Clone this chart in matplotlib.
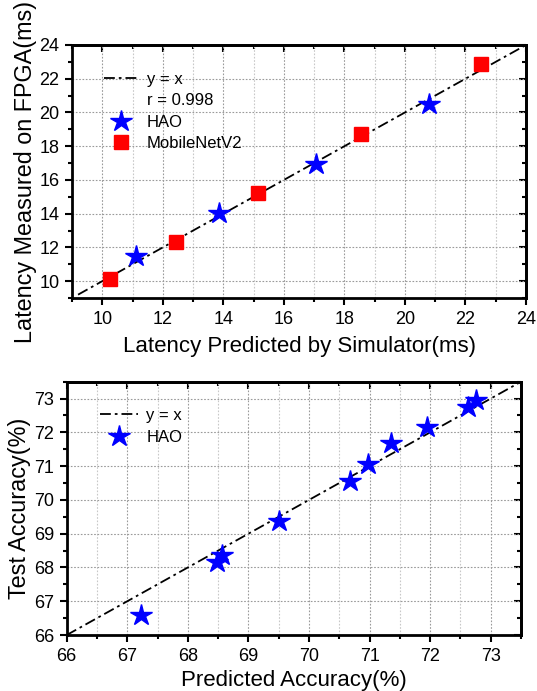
import matplotlib
matplotlib.use("Agg")
from matplotlib import pyplot as plt
from matplotlib.lines import Line2D
from matplotlib.ticker import MultipleLocator

plt.rcParams["font.family"] = ["Liberation Sans", "DejaVu Sans"]

# top panel: latency
hao_lat_pred = [11.1, 13.85, 17.05, 20.8]
hao_lat_meas = [11.5, 14.05, 16.95, 20.5]
mbv2_lat_pred = [10.25, 12.45, 15.15, 18.55, 22.5]
mbv2_lat_meas = [10.1, 12.35, 15.25, 18.75, 22.9]
r_value = 0.998

# bottom panel: accuracy
hao_acc_pred = [67.22, 68.48, 68.57, 69.5, 70.67, 70.97, 71.35, 71.95, 72.62, 72.75]
hao_acc_test = [66.6, 68.15, 68.38, 69.38, 70.55, 71.05, 71.68, 72.15, 72.75, 72.95]

DASHDOT = (0, (6, 2.2, 1.5, 2.2))
BLUE = "#0000ff"
RED = "#ff0000"
TICK_FS = 13
LEG_FS = 12


def style_axes(ax, xmaj, xmin, ymaj, ymin):
    ax.xaxis.set_major_locator(MultipleLocator(xmaj))
    ax.xaxis.set_minor_locator(MultipleLocator(xmin))
    ax.yaxis.set_major_locator(MultipleLocator(ymaj))
    ax.yaxis.set_minor_locator(MultipleLocator(ymin))
    for s in ax.spines.values():
        s.set_linewidth(2)
    ax.tick_params(which="both", direction="out", top=False, right=False,
                   labelsize=TICK_FS, width=1.5, pad=4)
    ax.tick_params(which="major", length=5)
    ax.tick_params(which="minor", length=3)
    # inward ticks on top / right, Origin style
    sec_x = ax.secondary_xaxis("top")
    sec_y = ax.secondary_yaxis("right")
    sec_x.xaxis.set_major_locator(MultipleLocator(xmaj))
    sec_x.xaxis.set_minor_locator(MultipleLocator(xmin))
    sec_y.yaxis.set_major_locator(MultipleLocator(ymaj))
    sec_y.yaxis.set_minor_locator(MultipleLocator(ymin))
    for sec in (sec_x, sec_y):
        sec.tick_params(which="both", direction="in", width=1.5,
                        labeltop=False, labelright=False, labelbottom=False, labelleft=False)
        sec.tick_params(which="major", length=5)
        sec.tick_params(which="minor", length=3)
        for s in sec.spines.values():
            s.set_linewidth(2)
    ax.grid(which="major", color="#9a9a9a", linestyle=(0, (1.5, 1.5)), linewidth=0.8)
    ax.grid(which="minor", axis="x", color="#c8c8c8", linestyle=(0, (1.5, 1.5)), linewidth=0.8)
    ax.set_axisbelow(True)


fig = plt.figure(figsize=(5.37, 6.91), dpi=100)

# ---- top panel
ax1 = fig.add_axes([0.1341, 0.5687, 0.8454, 0.3662])
ax1.set_xlim(9, 24)
ax1.set_ylim(9, 24)
style_axes(ax1, 2, 1, 2, 1)
ax1.plot([9.2, 24], [9.2, 24], color="black", linestyle=DASHDOT, linewidth=1.3, zorder=2)
ax1.plot(mbv2_lat_pred, mbv2_lat_meas, "s", color=RED, markersize=10.5, zorder=3)
ax1.plot(hao_lat_pred, hao_lat_meas, "*", color=BLUE, markersize=16, zorder=4)
ax1.set_xlabel("Latency Predicted by Simulator(ms)", fontsize=16, labelpad=6)
ax1.set_ylabel("Latency Measured on FPGA(ms)", fontsize=16.8, labelpad=2)

h1 = [Line2D([], [], color="black", linestyle=DASHDOT, linewidth=1.3),
      Line2D([], [], linestyle="none"),
      Line2D([], [], marker="*", color=BLUE, linestyle="none", markersize=16),
      Line2D([], [], marker="s", color=RED, linestyle="none", markersize=10.5)]
ax1.legend(h1, ["y = x", "r = %.3f" % r_value, "HAO", "MobileNetV2"],
           loc="upper left", bbox_to_anchor=(0.055, 0.92), frameon=False,
           fontsize=LEG_FS, handlelength=2.1, handletextpad=0.48, labelspacing=0.38,
           borderaxespad=0)

# ---- bottom panel
ax2 = fig.add_axes([0.1242, 0.0810, 0.846, 0.3666])
ax2.set_xlim(66, 73.5)
ax2.set_ylim(66, 73.5)
style_axes(ax2, 1, 0.5, 1, 0.5)
ax2.plot([66, 73.5], [66, 73.5], color="black", linestyle=DASHDOT, linewidth=1.3, zorder=2)
ax2.plot(hao_acc_pred, hao_acc_test, "*", color=BLUE, markersize=16, zorder=4)
ax2.set_xlabel("Predicted Accuracy(%)", fontsize=16, labelpad=4)
ax2.set_ylabel("Test Accuracy(%)", fontsize=16.8, labelpad=2)

h2 = [Line2D([], [], color="black", linestyle=DASHDOT, linewidth=1.3),
      Line2D([], [], marker="*", color=BLUE, linestyle="none", markersize=16)]
ax2.legend(h2, ["y = x", "HAO"], loc="upper left", bbox_to_anchor=(0.059, 0.924),
           frameon=False, fontsize=LEG_FS, handlelength=2.3, handletextpad=0.48,
           labelspacing=0.45, borderaxespad=0)

fig.savefig("out.png", dpi=100)
